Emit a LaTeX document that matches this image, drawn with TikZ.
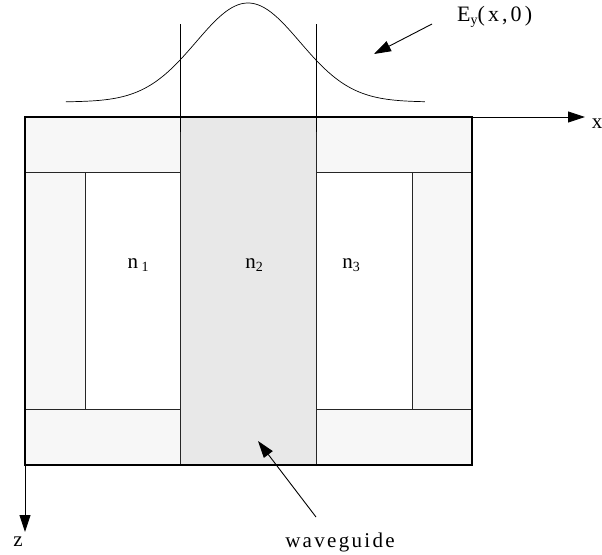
\documentclass[tikz,border=0pt]{standalone}
\usepackage{fontspec}
\setmainfont{Liberation Serif}
\usetikzlibrary{arrows.meta}
\newcommand{\lsub}[1]{\raisebox{-3pt}{\fontsize{14}{14}\selectfont #1}}
\begin{document}
\begin{tikzpicture}[x=1pt,y=-1pt,
  side/.style={draw=black!85, line width=1pt, fill=gray!6},
  core/.style={draw=black!85, line width=1pt, fill=gray!18},
  hole/.style={draw=black!85, line width=1pt, fill=white},
  tipped/.style={line width=0.9pt, -{Triangle[length=17pt,width=11pt]}},
  lbl/.style={inner sep=0pt, font=\fontsize{21}{21}\selectfont},
  spaced/.style={lbl, font=\fontsize{21}{21}\selectfont\addfontfeature{LetterSpace=11}}]
\useasboundingbox (0,0) rectangle (602,554);
% regions
\fill[gray!6] (25,117) rectangle (472,465);
\draw[side] (25,117) rectangle (180,172);
\draw[side] (25,409) rectangle (180,465);
\draw[side] (25,172) rectangle (85,409);
\draw[hole] (85,172) rectangle (180,409);
\draw[side] (316,117) rectangle (472,172);
\draw[side] (316,409) rectangle (472,465);
\draw[side] (412,172) rectangle (472,409);
\draw[hole] (316,172) rectangle (412,409);
\draw[core] (180,117) rectangle (316,465);
\draw[line width=1.4pt] (25,117) rectangle (472,465);
% field profile
\draw[line width=0.7pt] plot[domain=-3.51:3.41, samples=120, smooth] ({248+51.9*\x},{102-99*exp(-\x*\x/2)});
\draw[line width=1pt] (180,24) -- (180,132);
\draw[line width=1pt] (316,24) -- (316,132);
% axes
\coordinate (o) at (25,117);
\coordinate (xe) at (585,117);
\coordinate (ze) at (25,532);
\draw[tipped] (o) -- (xe);
\draw[tipped] (o) -- (ze);
\node[lbl, anchor=base] (xl) at (597,128) {x};
\node[lbl, anchor=base] (zl) at (18,546) {z};
% labels
\node[lbl, anchor=base] (n1) at (138,268) {n\,\lsub{1}};
\node[lbl, anchor=base] (n2) at (254,268) {n\lsub{2}};
\node[lbl, anchor=base] (n3) at (351,268) {n\lsub{3}};
\node[lbl, anchor=base west, font=\fontsize{22}{22}\selectfont\addfontfeature{LetterSpace=14}] (ey) at (457,21) {E\lsub{y}(x,0)};
\coordinate (ea) at (432,24);
\coordinate (eb) at (374,54);
\draw[tipped] (ea) -- (eb);
\node[spaced, anchor=base] (wg) at (340,547) {waveguide};
\coordinate (wa) at (316,517);
\coordinate (wb) at (258,441);
\draw[tipped] (wa) -- (wb);
\end{tikzpicture}
\end{document}
